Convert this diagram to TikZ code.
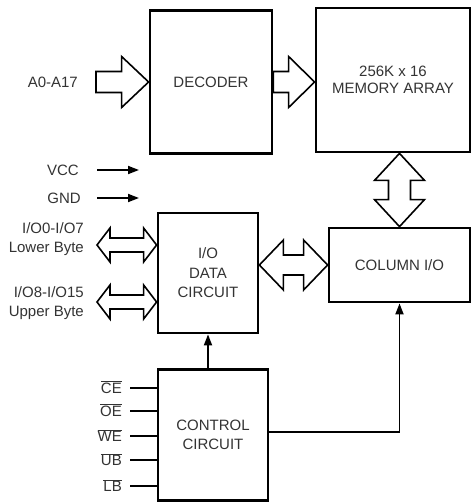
\documentclass[tikz,border=0pt]{standalone}
\usepackage{fontspec}
\setmainfont{Liberation Sans}
\usetikzlibrary{arrows.meta,calc}

\tikzset{
  block/.style={draw, line width=2.8pt, align=center, inner sep=0pt,
    font=\fontsize{15}{19.5}\selectfont, text=black!80},
  lbl/.style={font=\fontsize{15}{19.5}\selectfont, text=black!80, inner sep=0pt},
  hollow/.style={draw, line width=1.6pt, line join=miter, fill=white},
  sigline/.style={line width=1.8pt},
  sigarrow/.style={sigline, -{Triangle[length=11pt,width=8pt]}}
}

% hollow bus arrow: tail, tip (same height), head length
\newcommand{\busarrow}[3]{%
  \draw[hollow] let \p1=(#1), \p2=(#2) in
    (\x1,\y2+10.5pt) -- (\x2-#3,\y2+10.5pt) -- (\x2-#3,\y2+25.5pt) -- (\p2)
    -- (\x2-#3,\y2-25.5pt) -- (\x2-#3,\y2-10.5pt) -- (\x1,\y2-10.5pt) -- cycle;}
% two-headed bus arrow, horizontal: left tip, right tip, head length, shaft half, head half
\newcommand{\busarrowlr}[5]{%
  \draw[hollow] let \p1=(#1), \p2=(#2) in
    (\p1) -- (\x1+#3,\y1+#5) -- (\x1+#3,\y1+#4) -- (\x2-#3,\y1+#4) -- (\x2-#3,\y1+#5)
    -- (\x2,\y1) -- (\x2-#3,\y1-#5) -- (\x2-#3,\y1-#4) -- (\x1+#3,\y1-#4)
    -- (\x1+#3,\y1-#5) -- cycle;}
% two-headed bus arrow, vertical: top tip, bottom tip, head length, shaft half, head half
\newcommand{\busarrowud}[5]{%
  \draw[hollow] let \p1=(#1), \p2=(#2) in
    (\p1) -- (\x1+#5,\y1-#3) -- (\x1+#4,\y1-#3) -- (\x1+#4,\y2+#3) -- (\x1+#5,\y2+#3)
    -- (\x1,\y2) -- (\x1-#5,\y2+#3) -- (\x1-#4,\y2+#3) -- (\x1-#4,\y1-#3)
    -- (\x1-#5,\y1-#3) -- cycle;}

\begin{document}
\begin{tikzpicture}[x=1pt,y=-1pt]
  \useasboundingbox (0,0) rectangle (473,503);
  % blocks
  \node[block, minimum width=122pt, minimum height=143pt] (decoder) at (211,82) {DECODER};
  \node[block, minimum width=154pt, minimum height=144pt, font=\fontsize{15}{16.5}\selectfont]
    (memory) at (393,80) {256K x 16\\MEMORY ARRAY};
  \node[block, minimum width=100pt, minimum height=120pt] (iodata) at (208,273) {I/O\\DATA\\CIRCUIT};
  \node[block, minimum width=141pt, minimum height=74pt] (colio) at (399.5,265) {COLUMN I/O};
  \node[block, minimum width=110pt, minimum height=131pt] (control) at (213,435) {CONTROL\\CIRCUIT};

  % address bus
  \node[lbl, anchor=east] (addr) at (78,82) {A0-A17};
  \coordinate (addrin) at (96,82);
  \busarrow{addrin}{decoder.west}{27pt}
  \busarrow{decoder.east}{memory.west |- decoder.east}{26pt}
  \busarrowud{colio.north |- memory.south}{colio.north}{27pt}{11pt}{25pt}
  \busarrowlr{iodata.east |- colio.west}{colio.west}{24pt}{10pt}{25pt}

  % power
  \node[lbl, anchor=east] (vcc) at (79,170) {VCC};
  \node[lbl, anchor=east] (gnd) at (81,198) {GND};
  \coordinate (vccend) at (139,170);
  \coordinate (gndend) at (139,198);
  \draw[sigarrow] (vcc.east) ++(18,0) -- (vccend);
  \draw[sigarrow] (gnd.east) ++(16,0) -- (gndend);

  % data buses
  \node[lbl, anchor=east, align=right] (lowbyte) at (84,239) {I/O0-I/O7\\Lower Byte};
  \node[lbl, anchor=east, align=right] (upbyte) at (84,303) {I/O8-I/O15\\Upper Byte};
  \coordinate (lowtip) at (97,245);
  \coordinate (uptip) at (97,302);
  \busarrowlr{lowtip}{lowtip -| iodata.west}{13pt}{7pt}{17pt}
  \busarrowlr{uptip}{uptip -| iodata.west}{13pt}{7pt}{17pt}

  % control inputs
  \foreach \pin/\yy in {CE/388, OE/411, WE/436, UB/460, LB/486} {
    \node[lbl, anchor=east, text height=11pt, text depth=0pt] (\pin) at (122,\yy)
      {$\overline{\hbox{\pin}}$};
    \draw[sigline] ([xshift=8pt]\pin.east) -- (control.west |- \pin.east);
  }

  % control signals
  \draw[sigarrow] (control.north -| iodata.south) -- (iodata.south);
  \draw[sigarrow] ([yshift=3pt]control.east) -- ([yshift=3pt]control.east -| colio.south) -- (colio.south);
\end{tikzpicture}
\end{document}
